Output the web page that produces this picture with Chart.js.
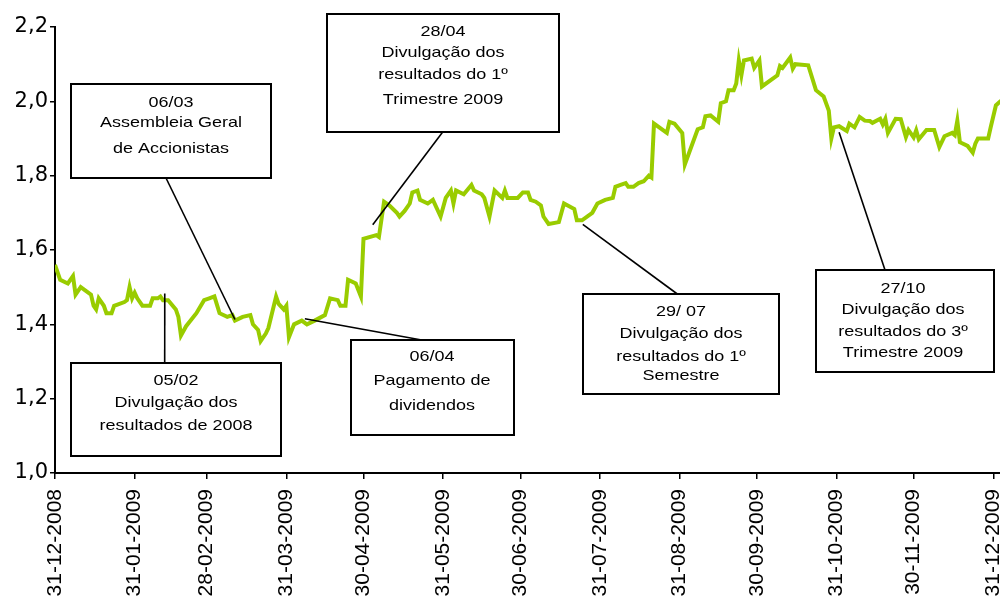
<!DOCTYPE html>
<html>
<head>
<meta charset="utf-8">
<script src="https://cdn.jsdelivr.net/npm/chart.js@4.4.0/dist/chart.umd.min.js"></script>
<style>
  html, body { margin: 0; padding: 0; background: #fff; }
  #wrap { width: 1000px; height: 597px; }
</style>
</head>
<body>
<div id="wrap"><canvas id="priceChart" width="1000" height="597"></canvas></div>
<script>
// days counted from 31-12-2008
const days = [0,2,5,7,8,10,14,15,16,17,19,20,22,23,27,28,29,30,31,32,34,37,38,40,41,42,44,47,48,49,51,55,58,60,62,64,67,69,70,73,76,77,79,80,82,83,86,87,89,90,91,93,96,98,101,105,107,110,111,113,114,117,119,120,125,126,128,130,133,134,136,138,139,141,142,145,147,150,152,154,155,156,159,162,163,166,167,169,171,174,175,176,180,182,184,185,187,189,190,192,196,198,202,203,205,209,211,214,217,218,220,222,223,225,227,229,231,232,233,238,239,241,244,245,250,252,253,255,258,259,261,262,264,265,266,267,268,271,272,274,275,281,282,283,286,287,288,293,296,299,301,302,303,305,308,309,311,313,315,317,318,321,322,323,324,327,329,331,332,334,335,336,339,342,344,346,349,350,351,352,355,357,358,359,363,364,365,366,368];
const prices = [1.56,1.52,1.51,1.53,1.48,1.50,1.48,1.45,1.44,1.47,1.45,1.43,1.43,1.45,1.46,1.465,1.50,1.47,1.485,1.47,1.45,1.45,1.47,1.47,1.475,1.465,1.465,1.44,1.42,1.37,1.395,1.43,1.465,1.47,1.475,1.43,1.42,1.425,1.41,1.42,1.425,1.40,1.385,1.355,1.375,1.39,1.475,1.455,1.44,1.45,1.365,1.40,1.41,1.40,1.41,1.425,1.47,1.465,1.45,1.45,1.52,1.51,1.475,1.63,1.64,1.635,1.73,1.72,1.70,1.69,1.705,1.725,1.755,1.76,1.735,1.725,1.735,1.69,1.74,1.76,1.725,1.76,1.75,1.775,1.76,1.75,1.74,1.69,1.76,1.74,1.76,1.74,1.74,1.755,1.755,1.735,1.73,1.72,1.69,1.67,1.675,1.725,1.71,1.68,1.68,1.70,1.725,1.735,1.74,1.77,1.775,1.78,1.77,1.77,1.78,1.785,1.80,1.795,1.94,1.915,1.945,1.94,1.915,1.83,1.925,1.93,1.96,1.962,1.945,1.995,2.00,2.03,2.03,2.048,2.11,2.07,2.11,2.115,2.09,2.11,2.04,2.07,2.095,2.09,2.118,2.088,2.10,2.097,2.03,2.013,1.975,1.90,1.93,1.933,1.92,1.94,1.93,1.958,1.948,1.947,1.942,1.953,1.938,1.953,1.915,1.953,1.952,1.904,1.923,1.903,1.922,1.898,1.923,1.923,1.877,1.906,1.915,1.909,1.948,1.89,1.88,1.862,1.886,1.90,1.90,1.931,1.96,1.989,2.002];

const tickDays = [0,31,59,90,120,151,181,212,243,273,304,334,365];
const tickLabels = ["31-12-2008","31-01-2009","28-02-2009","31-03-2009","30-04-2009","31-05-2009","30-06-2009","31-07-2009","31-08-2009","30-09-2009","31-10-2009","30-11-2009","31-12-2009"];

// events marked on the line
const calloutDays = [42.7, 70, 97.2, 123.6, 205.3, 305];
const calloutValues = [1.483, 1.413, 1.415, 1.668, 1.669, 1.917];
const calloutTexts = [
    ["05/02", "Divulgação dos", "resultados de 2008"],
    ["06/03", "Assembleia Geral", "de Accionistas"],
    ["06/04", "Pagamento de", "dividendos"],
    ["28/04", "Divulgação dos", "resultados do 1º", "Trimestre 2009"],
    ["29/ 07", "Divulgação dos", "resultados do 1º", "Semestre"],
    ["27/10", "Divulgação dos", "resultados do 3º", "Trimestre 2009"]
];

// box layout (pixels): rect, attach point of leader line, text line centres
const boxes = [
    { x: 71, y: 363, w: 210, h: 93, lx: 164.7, ly: 363, cx: 176, rows: [381, 403, 426] },
    { x: 71, y: 84, w: 200, h: 94, lx: 166, ly: 178, cx: 171, rows: [103, 123, 149] },
    { x: 351, y: 340, w: 163, h: 95, lx: 421.7, ly: 340, cx: 432, rows: [357, 381, 406] },
    { x: 327, y: 14, w: 232, h: 118, lx: 442.7, ly: 132, cx: 443, rows: [32, 53, 75, 100] },
    { x: 583, y: 294, w: 196, h: 100, lx: 677.3, ly: 294, cx: 681, rows: [312, 334, 357, 376] },
    { x: 816, y: 270, w: 178, h: 102, lx: 885, ly: 270, cx: 903, rows: [289, 310, 332, 353] }
];

const calloutPlugin = {
    id: "callouts",
    afterDatasetsDraw(chart) {
        const ctx = chart.ctx;
        const xs = chart.scales.x, ys = chart.scales.y;
        ctx.save();
        calloutDays.forEach((d, i) => {
            const b = boxes[i];
            const ax = xs.getPixelForValue(d);
            const ay = ys.getPixelForValue(calloutValues[i]);

            ctx.strokeStyle = "#000";
            ctx.lineWidth = 1.6;
            ctx.beginPath();
            ctx.moveTo(ax, ay);
            ctx.lineTo(b.lx, b.ly);
            ctx.stroke();

            ctx.fillStyle = "#fff";
            ctx.fillRect(b.x, b.y, b.w, b.h);
            ctx.lineWidth = 2;
            ctx.strokeRect(b.x, b.y, b.w, b.h);

            ctx.fillStyle = "#000";
            ctx.font = "15px 'Liberation Sans', Arial, sans-serif";
            ctx.textAlign = "center";
            ctx.textBaseline = "middle";
            calloutTexts[i].forEach((line, j) => {
                ctx.save();
                ctx.translate(b.cx, b.rows[j]);
                ctx.scale(1.2, 1);
                ctx.fillText(line, 0, 0);
                ctx.restore();
            });
        });
        ctx.restore();
    }
};

const ctx = document.getElementById("priceChart").getContext("2d");

new Chart(ctx, {
    type: "line",
    data: {
        datasets: [{
            data: days.map((d, i) => ({ x: d, y: prices[i] })),
            borderColor: "#99cc00",
            borderWidth: 4,
            pointRadius: 0,
            tension: 0,
            fill: false
        }]
    },
    options: {
        responsive: false,
        animation: false,
        events: [],
        layout: { autoPadding: false, padding: { top: 27, right: 0, left: 0, bottom: 0 } },
        plugins: {
            legend: { display: false },
            tooltip: { enabled: false }
        },
        scales: {
            x: {
                type: "linear",
                min: 0,
                max: 367.6,
                afterBuildTicks: (axis) => { axis.ticks = tickDays.map(v => ({ value: v })); },
                afterFit: (axis) => {
                    axis.height = 124;
                    axis.paddingLeft = 0;
                    axis.paddingRight = 0;
                },
                ticks: {
                    autoSkip: false,
                    maxRotation: 90,
                    minRotation: 90,
                    padding: 10,
                    color: "#000",
                    font: { family: "'Liberation Sans', Arial, sans-serif", size: 21 },
                    callback: (v) => tickLabels[tickDays.indexOf(v)]
                },
                grid: { display: true, drawOnChartArea: false, drawTicks: true, tickLength: 6, color: "#000", lineWidth: 1.5 },
                border: { display: true, color: "#000", width: 2 }
            },
            y: {
                min: 1.0,
                max: 2.2,
                afterFit: (axis) => {
                    axis.width = 55;
                    axis.paddingTop = 0;
                    axis.paddingBottom = 0;
                },
                ticks: {
                    stepSize: 0.2,
                    padding: 2,
                    color: "#000",
                    font: { family: "'DejaVu Sans', sans-serif", size: 21 },
                    callback: (v) => v.toFixed(1).replace(".", ",")
                },
                grid: { display: true, drawOnChartArea: false, drawTicks: true, tickLength: 5, color: "#000", lineWidth: 1.5 },
                border: { display: true, color: "#000", width: 2 }
            }
        }
    },
    plugins: [calloutPlugin]
});
</script>
</body>
</html>
